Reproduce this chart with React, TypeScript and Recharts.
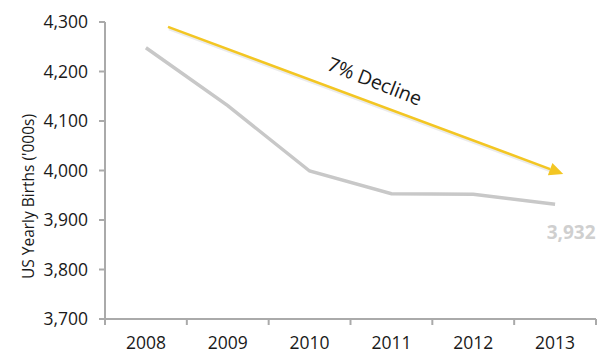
import { LineChart, Line, XAxis, YAxis, ReferenceLine, LabelList, Label } from "recharts";

const years = ["2008", "2009", "2010", "2011", "2012", "2013"];
const births = [4248, 4131, 3999, 3953, 3952, 3932];
const yTicks = [3700, 3800, 3900, 4000, 4100, 4200, 4300];
// trend arrow ends: [year position, births]
const trendStart = [2008.27, 4290];
const trendEnd = [2013.1, 3993];
const trendText = "7% Decline";
const yTitle = "US Yearly Births ('000s)";

const data = years.map((year, i) => ({ year, pos: Number(year), births: births[i] }));

const FONT = "'Open Sans', sans-serif";
const W = 600;
const H = 346;
const MARGIN = { top: 14, right: 12, bottom: 5, left: 5 };
const Y_WIDTH = 92;
const BAND = (W - MARGIN.left - Y_WIDTH - MARGIN.right) / years.length;

const fmt = (v: number) => v.toLocaleString("en-US");

const YearTick = (props: any) => {
	const { x, y, payload, index } = props;
	const left = x - BAND / 2;
	return (
		<g>
			<line x1={left} y1={y} x2={left} y2={y + 6} stroke="#aaa" strokeWidth={2} />
			{index === years.length - 1 && (
				<line x1={x + BAND / 2} y1={y} x2={x + BAND / 2} y2={y + 6} stroke="#aaa" strokeWidth={2} />
			)}
			<text x={x} y={y + 23} textAnchor="middle" dominantBaseline="central" fill="#1a1a1a" fontSize={17.5} fontFamily={FONT}>
				{payload.value}
			</text>
		</g>
	);
};

const TrendArrow = (props: any) => {
	const { x1, y1, x2, y2 } = props;
	if ([x1, y1, x2, y2].some((v) => v == null || isNaN(v))) return null;
	const a = Math.atan2(y2 - y1, x2 - x1);
	const deg = (a * 180) / Math.PI;
	const head = 14;
	const half = 6.5;
	const bx = x2 - head * Math.cos(a);
	const by = y2 - head * Math.sin(a);
	const px = -Math.sin(a);
	const py = Math.cos(a);
	const mx = (x1 + x2) / 2 + 2 + 21 * Math.sin(a);
	const my = (y1 + y2) / 2 - 21 * Math.cos(a);
	return (
		<g>
			<line x1={x1 + 1} y1={y1 + 2} x2={bx + 1} y2={by + 2} stroke="#000" strokeOpacity={0.08} strokeWidth={3} />
			<line x1={x1} y1={y1} x2={bx} y2={by} stroke="#f3c623" strokeWidth={2.5} />
			<polygon
				points={`${x2},${y2} ${bx + px * half},${by + py * half} ${bx - px * half},${by - py * half}`}
				fill="#f3c623"
			/>
			<text
				x={mx}
				y={my}
				transform={`rotate(${deg + 1} ${mx} ${my})`}
				textAnchor="middle"
				dominantBaseline="central"
				fontSize={19.5}
				fontFamily={FONT}
				fill="#1a1a1a"
			>
				{trendText}
			</text>
		</g>
	);
};

const LastLabel = (props: any) => {
	const { x, y, value, index } = props;
	if (index !== years.length - 1) return null;
	return (
		<text x={x + 16} y={y + 28} textAnchor="middle" dominantBaseline="central" fill="#cfcfcf" fontSize={19} fontWeight="bold" fontFamily={FONT}>
			{fmt(value)}
		</text>
	);
};

const YTitle = (props: any) => {
	const vb = props.viewBox || {};
	const cx = vb.x + 15;
	const cy = vb.y + vb.height / 2 + 26;
	return (
		<text
			x={cx}
			y={cy}
			transform={`rotate(-90 ${cx} ${cy})`}
			textAnchor="middle"
			dominantBaseline="central"
			fill="#1a1a1a"
			fontSize={15.5}
			fontFamily={FONT}
		>
			{yTitle}
		</text>
	);
};

export default function App() {
	return (
		<LineChart width={W} height={H} data={data} margin={MARGIN}>
			<XAxis
				dataKey="year"
				scale="band"
				axisLine={{ stroke: "#aaa", strokeWidth: 2 }}
				tickLine={false}
				tickSize={0}
				tickMargin={0}
				tick={<YearTick />}
				height={30}
				interval={0}
			/>
			<XAxis xAxisId="n" dataKey="pos" type="number" domain={[2007.5, 2013.5]} allowDataOverflow hide />
			<YAxis
				domain={[3700, 4300]}
				ticks={yTicks}
				tickFormatter={fmt}
				width={Y_WIDTH}
				axisLine={{ stroke: "#aaa", strokeWidth: 2 }}
				tickLine={{ stroke: "#aaa", strokeWidth: 2 }}
				tickSize={6}
				tickMargin={11}
				tick={{ fill: "#1a1a1a", fontSize: 17.5, fontFamily: FONT }}
			>
				<Label content={<YTitle />} />
			</YAxis>
			<Line
				dataKey="births"
				stroke="#c8c8c8"
				strokeWidth={3.5}
				dot={false}
				isAnimationActive={false}
			>
				<LabelList dataKey="births" content={<LastLabel />} />
			</Line>
			<ReferenceLine
				xAxisId="n"
				ifOverflow="visible"
				segment={[
					{ x: trendStart[0], y: trendStart[1] },
					{ x: trendEnd[0], y: trendEnd[1] },
				]}
				stroke="#f3c623"
				shape={(p: any) => <TrendArrow {...p} />}
			/>
		</LineChart>
	);
}
